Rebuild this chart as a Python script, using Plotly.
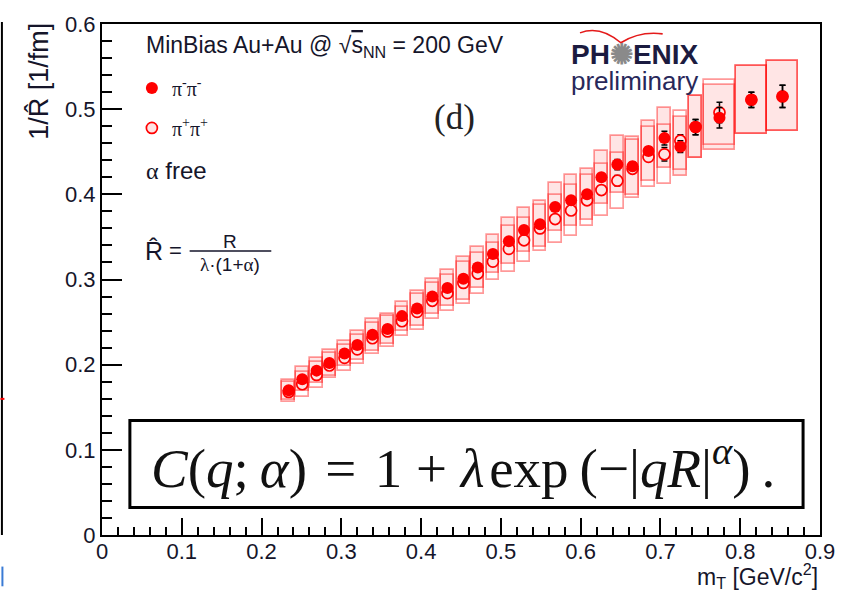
import plotly.graph_objects as go

# ---------------- data ----------------
mt = [0.234, 0.251, 0.269, 0.285, 0.304, 0.320, 0.339, 0.358, 0.376, 0.395,
      0.414, 0.433, 0.453, 0.471, 0.490, 0.510, 0.529, 0.549, 0.568, 0.588,
      0.608, 0.626, 0.646, 0.665, 0.685, 0.705, 0.725, 0.744, 0.774, 0.814, 0.853]

inv_r_minus = [0.170, 0.183, 0.193, 0.202, 0.213, 0.223, 0.235, 0.242, 0.257, 0.266,
               0.280, 0.290, 0.301, 0.314, 0.330, 0.345, 0.358, 0.365, 0.385, 0.393,
               0.400, 0.420, 0.435, 0.433, 0.451, 0.466, 0.456, 0.479, 0.490, 0.511, 0.515]

inv_r_plus = [0.168, 0.177, 0.188, 0.199, 0.208, 0.218, 0.231, 0.239, 0.251, 0.262,
              0.275, 0.284, 0.296, 0.307, 0.321, 0.336, 0.346, 0.360, 0.371, 0.381,
              0.393, 0.405, 0.416, 0.430, 0.444, 0.447, 0.463, 0.479, 0.496, 0.511, 0.515]

stat_err = [0.002, 0.002, 0.002, 0.002, 0.002, 0.002, 0.002, 0.002, 0.002, 0.002,
            0.003, 0.003, 0.003, 0.003, 0.003, 0.003, 0.003, 0.003, 0.004, 0.004,
            0.004, 0.004, 0.006, 0.005, 0.005, 0.008, 0.007, 0.009, 0.012, 0.009, 0.013]

sys_err = [0.012, 0.0145, 0.015, 0.015, 0.015, 0.017, 0.0185, 0.018, 0.017, 0.021,
           0.021, 0.0215, 0.025, 0.024, 0.022, 0.027, 0.026, 0.027, 0.0285, 0.030,
           0.030, 0.031, 0.033, 0.034, 0.035, 0.035, 0.035, 0.036, 0.038, 0.040, 0.041]

bin_width = [0.016] * 28 + [0.038] * 3

x_ticks = [0, 0.1, 0.2, 0.3, 0.4, 0.5, 0.6, 0.7, 0.8, 0.9]
x_tick_labels = ["0", "0.1", "0.2", "0.3", "0.4", "0.5", "0.6", "0.7", "0.8", "0.9"]
y_ticks = [0, 0.1, 0.2, 0.3, 0.4, 0.5, 0.6]
y_tick_labels = ["0", "0.1", "0.2", "0.3", "0.4", "0.5", "0.6"]

# ---------------- layout helpers ----------------
W, H = 847, 591
PL, PR, PT, PB = 102, 823, 17, 535


def px(x):
    return (x - PL) / (PR - PL)


def py(y):
    return (PB - y) / (PB - PT)


SANS = "Liberation Sans, Arial, sans-serif"
SERIF = "Liberation Serif, Times New Roman, serif"
TXT = "#15152a"
RED = "#ff0000"
BOX_LINE = "rgba(255,0,0,0.40)"
BOX_FILL = "rgba(255,0,0,0.10)"

fig = go.Figure()

# systematic boxes
fig.add_trace(go.Bar(
    x=mt, y=[2 * s for s in sys_err], base=[v - s for v, s in zip(inv_r_minus, sys_err)],
    width=bin_width, marker=dict(color=BOX_FILL, line=dict(color=BOX_LINE, width=1.7)),
    showlegend=False, hoverinfo="skip"))
fig.add_trace(go.Bar(
    x=mt, y=[2 * s for s in sys_err], base=[v - s for v, s in zip(inv_r_plus, sys_err)],
    width=bin_width, marker=dict(color="rgba(0,0,0,0)", line=dict(color=BOX_LINE, width=1.7)),
    showlegend=False, hoverinfo="skip"))

# points
fig.add_trace(go.Scatter(
    x=mt, y=inv_r_plus, mode="markers", name="π<sup>+</sup>π<sup>+</sup>",
    legendgroup="b", legendrank=2,
    marker=dict(symbol="circle", size=11, color="#ffe3e3", line=dict(width=1.7, color=RED)),
    error_y=dict(type="data", array=stat_err, color="black", thickness=1.5, width=3)))
fig.add_trace(go.Scatter(
    x=mt, y=inv_r_minus, mode="markers", name="π<sup>-</sup>π<sup>-</sup>",
    legendgroup="a", legendrank=1,
    marker=dict(symbol="circle", size=12, color=RED),
    error_y=dict(type="data", array=stat_err, color="black", thickness=1.5, width=3)))

shapes = [
    # equation box
    dict(type="rect", xref="paper", yref="paper", x0=px(130), x1=px(806), y0=py(507), y1=py(419),
         line=dict(color="black", width=3), fillcolor="white", layer="above"),
    # fraction bar
    dict(type="line", xref="paper", yref="paper", x0=px(190), x1=px(272), y0=py(247), y1=py(247),
         line=dict(color=TXT, width=1.5)),
    # PHENIX bird swoosh
    dict(type="path", xref="paper", yref="paper",
         path=(f"M {px(582)},{py(26)} Q {px(602)},{py(18)} {px(623)},{py(36)} "
               f"Q {px(642)},{py(24)} {px(665)},{py(27)}"),
         line=dict(color="#e41a1a", width=1.6)),
    # fragments of the neighbouring panel at the left edge
    dict(type="line", xref="paper", yref="paper", x0=px(1.5), x1=px(1.5), y0=py(535), y1=py(15),
         line=dict(color="black", width=2)),
    dict(type="line", xref="paper", yref="paper", x0=px(0), x1=px(4), y0=py(397), y1=py(397),
         line=dict(color="red", width=2)),
    dict(type="line", xref="paper", yref="paper", x0=px(2), x1=px(2), y0=py(587), y1=py(567),
         line=dict(color="#3a7bd5", width=2)),
]

EQ = ("<i>C</i>(<i>q</i>;\u2009<i>α</i>)\u2004=\u20041\u2005+\u2005"
      "<i>λ</i>\u200aexp\u2009(−|<i>qR</i>|<sup><i>α</i></sup>)\u2009.")

annotations = [
    dict(text="MinBias Au+Au @ √<span style='text-decoration:overline'>s</span><sub>NN</sub> = 200 GeV",
         x=px(144), y=py(40), xanchor="left", yanchor="middle", font=dict(family=SANS, size=23, color=TXT)),
    dict(text="(d)", x=px(456), y=py(112), xanchor="center", yanchor="middle",
         font=dict(family=SERIF, size=35, color="#222")),
    dict(text="<span style='font-family:Liberation Serif'>α</span> free", x=px(144), y=py(166),
         xanchor="left", yanchor="middle", font=dict(family=SANS, size=24, color=TXT)),
    dict(text="R\u0302", x=px(143), y=py(247), xanchor="left", yanchor="middle",
         font=dict(family=SANS, size=25, color=TXT)),
    dict(text="=", x=px(176), y=py(247), xanchor="center", yanchor="middle",
         font=dict(family=SANS, size=22, color=TXT)),
    dict(text="R", x=px(231), y=py(237), xanchor="center", yanchor="middle",
         font=dict(family=SANS, size=19, color=TXT)),
    dict(text="<span style='font-family:Liberation Serif'>λ</span>·(1+<span style='font-family:Liberation Serif'>α</span>)",
         x=px(231), y=py(261), xanchor="center", yanchor="middle", font=dict(family=SANS, size=19, color=TXT)),
    dict(text="<b>PH<span style='color:#8a8a8a'>✺</span>ENIX</b>", x=px(637), y=py(48), xanchor="center",
         yanchor="middle", font=dict(family=SANS, size=28, color="#1b1b40")),
    dict(text="preliminary", x=px(637), y=py(75), xanchor="center", yanchor="middle",
         font=dict(family=SANS, size=26, color="#28285a")),
    dict(text=EQ, x=px(465), y=py(464), xanchor="center", yanchor="middle",
         font=dict(family=SERIF, size=55, color="#111")),
    dict(text="1/R\u0302 [1/fm]", x=px(38), y=py(14), xanchor="center", yanchor="top", textangle=-90,
         font=dict(family=SANS, size=27, color=TXT)),
    dict(text="m<sub>T</sub> [GeV/c<sup>2</sup>]", x=px(823), y=py(577), xanchor="right", yanchor="middle",
         font=dict(family=SANS, size=23, color=TXT)),
]
for a in annotations:
    a.setdefault("xref", "paper")
    a.setdefault("yref", "paper")
    a["showarrow"] = False

axis_common = dict(showline=True, linewidth=2, linecolor="black", mirror=True, showgrid=False,
                   zeroline=False, ticks="inside", tickwidth=2, tickcolor="black",
                   tickfont=dict(family=SANS, size=22, color=TXT))

fig.update_layout(
    width=W, height=H, margin=dict(l=PL, r=W - PR, t=PT, b=H - PB),
    paper_bgcolor="white", plot_bgcolor="white", barmode="overlay", bargap=0,
    xaxis=dict(range=[0, 0.9], tickvals=x_ticks, ticktext=x_tick_labels, ticklen=17,
               ticklabelstandoff=-4,
               minor=dict(dtick=0.02, ticklen=8, tickwidth=2, ticks="inside", tickcolor="black"),
               **axis_common),
    yaxis=dict(range=[0, 0.6], tickvals=y_ticks, ticktext=y_tick_labels, ticklen=20,
               minor=dict(dtick=0.02, ticklen=10, tickwidth=2, ticks="inside", tickcolor="black"),
               **axis_common),
    showlegend=True,
    legend=dict(x=px(132), y=py(62), xanchor="left", yanchor="top", bgcolor="rgba(0,0,0,0)",
                font=dict(family=SERIF, size=20, color=TXT), tracegroupgap=11, itemwidth=30,
                traceorder="grouped"),
    shapes=shapes, annotations=annotations,
)

fig.write_html("out.html")
